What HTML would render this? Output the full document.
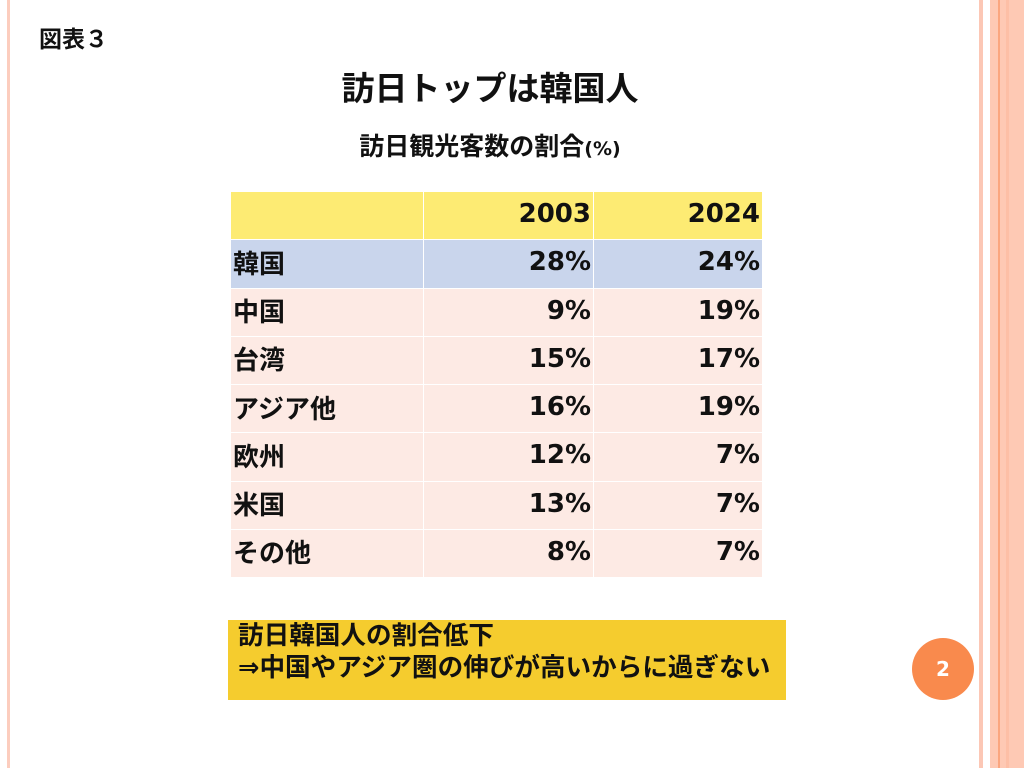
<!DOCTYPE html>
<html><head><meta charset="utf-8"><style>
body{margin:0;width:1024px;height:768px;background:#fff;position:relative;overflow:hidden;font-family:"DejaVu Sans","Noto Sans CJK JP",sans-serif;font-weight:bold;color:#111}
.a{position:absolute}
table{position:absolute;left:230px;top:191px;border-collapse:collapse}
td{box-sizing:border-box;height:48.25px;padding:0 2px 3px;font-size:26px;border:1.5px solid #fff;background:#FDEAE4}
td:nth-child(1){width:193px;text-align:left;font-size:26px}
td:nth-child(2){width:170px;text-align:right}
td:nth-child(3){width:169px;text-align:right}
tr.h td{background:#FDEB73}
tr.k td{background:#C9D5EC}
</style></head><body>
<div class="a" style="left:7px;top:0;width:3px;height:768px;background:#FCCDBE"></div>
<div class="a" style="left:979px;top:0;width:4px;height:768px;background:#FCC7B5"></div>
<div class="a" style="left:990px;top:0;width:34px;height:768px;background:#FEC9B4"></div>
<div class="a" style="left:998px;top:0;width:2px;height:768px;background:#FBA67F"></div>
<div class="a" style="left:1006px;top:0;width:3px;height:768px;background:#FDBFA6"></div>
<div class="a" style="left:39px;top:20px;font-size:23px">図表３</div>
<div class="a" style="left:0;width:980px;top:62px;text-align:center;font-size:33px">訪日トップは韓国人</div>
<div class="a" style="left:0;width:980px;top:127px;text-align:center;font-size:25px">訪日観光客数の割合<span style="font-size:19px">(%)</span></div>
<table>
<tr class="h"><td></td><td>2003</td><td>2024</td></tr>
<tr class="k"><td>韓国</td><td>28%</td><td>24%</td></tr>
<tr><td>中国</td><td>9%</td><td>19%</td></tr>
<tr><td>台湾</td><td>15%</td><td>17%</td></tr>
<tr><td>アジア他</td><td>16%</td><td>19%</td></tr>
<tr><td>欧州</td><td>12%</td><td>7%</td></tr>
<tr><td>米国</td><td>13%</td><td>7%</td></tr>
<tr><td>その他</td><td>8%</td><td>7%</td></tr>
</table>
<div class="a" style="left:228px;top:620px;width:558px;height:80px;background:#F5CC2E"></div>
<div class="a" style="left:238px;top:620px;font-size:25.6px;line-height:32px;white-space:nowrap">訪日韓国人の割合低下<br>⇒中国やアジア圏の伸びが高いからに過ぎない</div>
<div class="a" style="left:912px;top:638px;width:62px;height:62px;border-radius:50%;background:#F98A4D;color:#fff;font-size:20px;text-align:center;line-height:62px">2</div>
</body></html>
